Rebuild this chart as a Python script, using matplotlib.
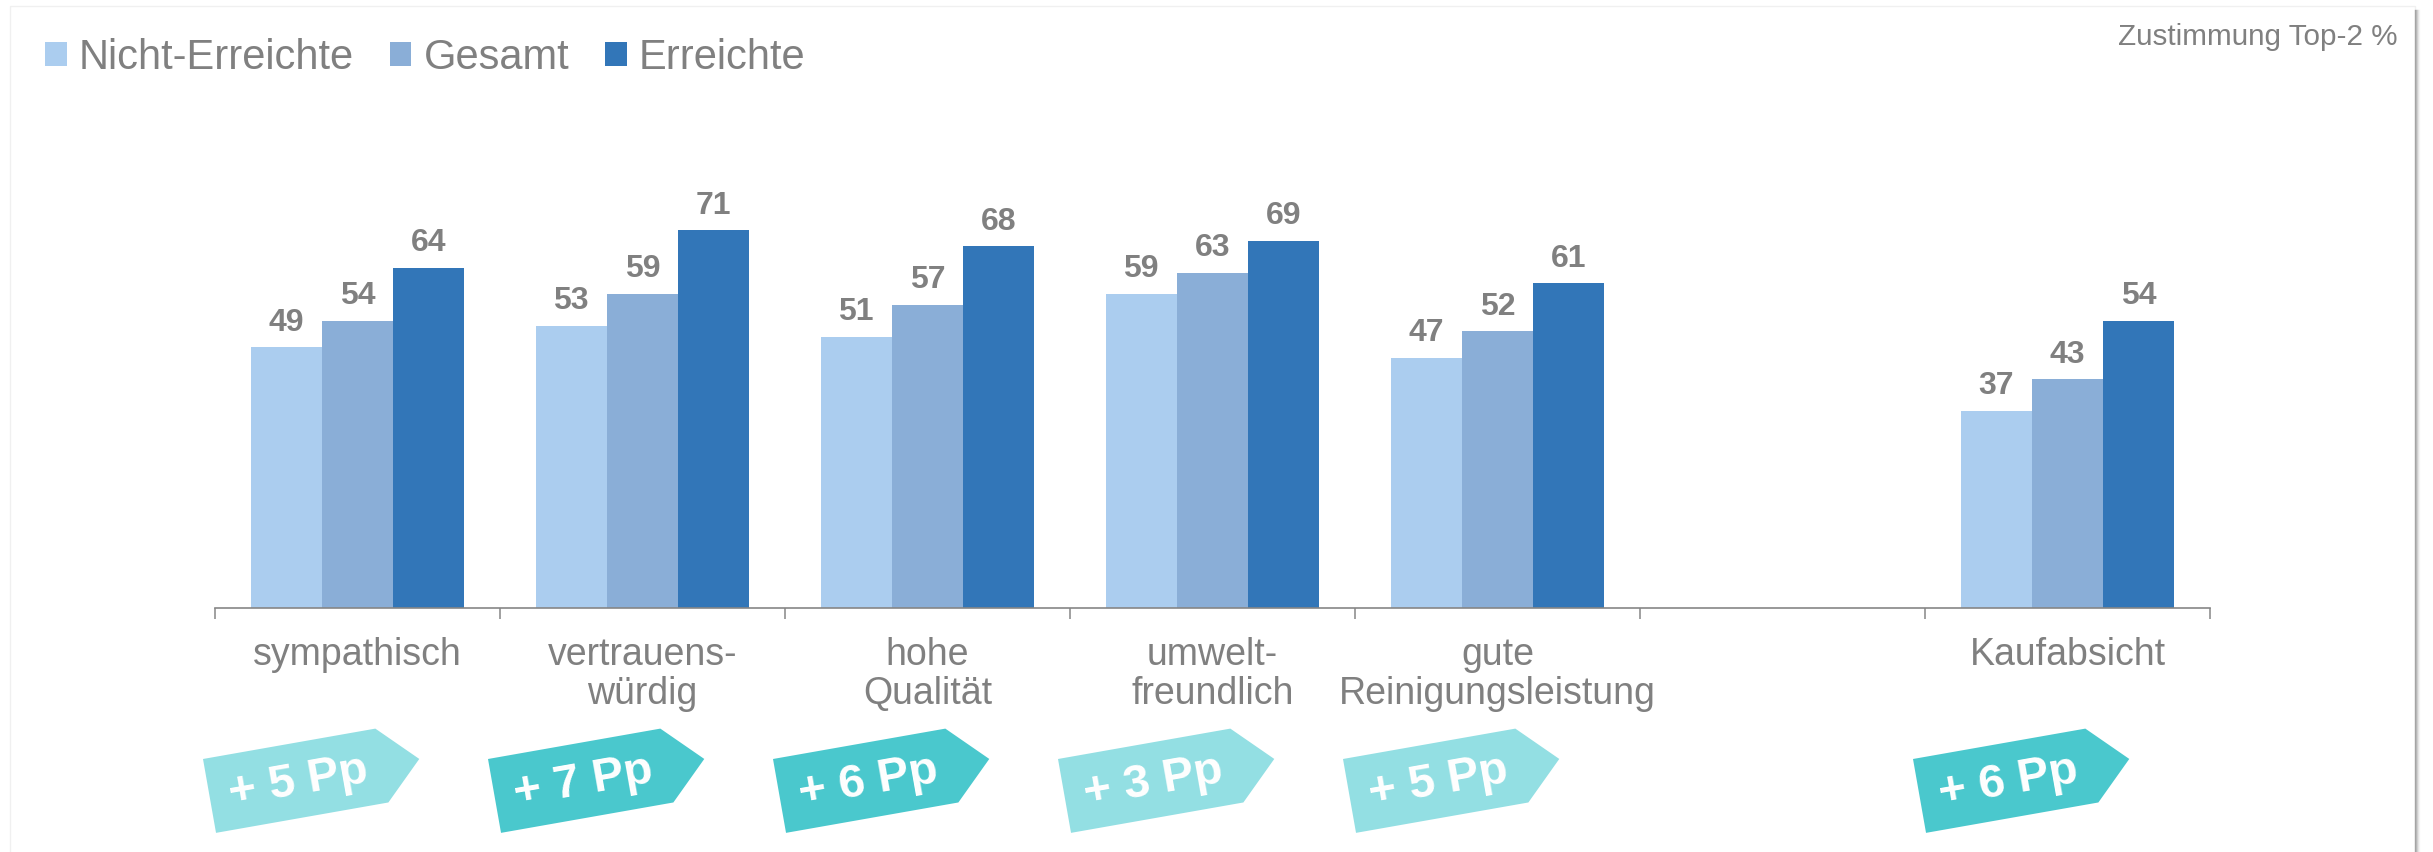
import numpy as np
import matplotlib
matplotlib.use("Agg")
import matplotlib.pyplot as plt
from matplotlib.patches import Polygon, Rectangle
from matplotlib.lines import Line2D
from matplotlib.transforms import Affine2D

# chart data
categories = ["sympathisch", "vertrauens-\nwürdig", "hohe\nQualität", "umwelt-\nfreundlich",
              "gute\nReinigungsleistung", "", "Kaufabsicht"]
series_names = ["Nicht-Erreichte", "Gesamt", "Erreichte"]
nicht_erreichte = [49, 53, 51, 59, 47, np.nan, 37]
gesamt = [54, 59, 57, 63, 52, np.nan, 43]
erreichte = [64, 71, 68, 69, 61, np.nan, 54]
# difference tags below the categories (Prozentpunkte)
tag_values = [5, 7, 6, 3, 5, None, 6]

colors = ["#abcdef", "#8aaed7", "#3276b8"]
tag_light = "#93dfe3"
tag_dark = "#4ac8cd"
gray = "#808080"

W, H = 2433, 852


def main():
    plt.rcParams['font.family'] = ['Liberation Sans', 'DejaVu Sans']
    fig = plt.figure(figsize=(W / 100, H / 100), dpi=100)
    fig.patch.set_facecolor("white")

    # pixel coordinates with origin top-left
    px = Affine2D().scale(1 / W, -1 / H).translate(0, 1) + fig.transFigure

    ax = fig.add_axes([215 / W, (H - 608) / H, 1995 / W, 532 / H])
    x = np.arange(len(categories))
    width = 0.25
    series = [nicht_erreichte, gesamt, erreichte]
    bars = []
    for k, vals in enumerate(series):
        b = ax.bar(x + (k - 1) * width, vals, width, color=colors[k], label=series_names[k])
        labels = ["" if np.isnan(v) else "%d" % v for v in vals]
        ax.bar_label(b, labels=labels, padding=7, fontsize=23, fontweight="bold", color=gray)
        bars.append(b)

    ax.set_xlim(-0.5, len(categories) - 0.5)
    ax.set_ylim(0, 100)
    ax.set_yticks([])
    for s in ["left", "right", "top"]:
        ax.spines[s].set_visible(False)
    ax.spines["bottom"].set_color("#868686")
    ax.spines["bottom"].set_linewidth(1.2)

    ax.set_xticks(x)
    ax.set_xticklabels(categories, fontsize=27, color=gray, linespacing=1.1)
    ax.tick_params(axis="x", which="major", length=0, pad=21)
    ax.set_xticks(np.arange(len(categories) + 1) - 0.5, minor=True)
    ax.tick_params(axis="x", which="minor", length=8, width=1.1, color="#868686")

    ax.legend(handles=bars, loc="center left", bbox_to_anchor=(45 / W, 1 - 58 / H),
              bbox_transform=fig.transFigure, ncol=3, frameon=False, fontsize=30,
              labelcolor=gray, borderpad=0, borderaxespad=0, handlelength=0.52,
              handleheight=0.52, handletextpad=0.29, columnspacing=0.86)

    fig.text(2397 / W, 1 - 45 / H, "Zustimmung Top-2 %", ha="right", va="baseline",
             fontsize=21.3, color=gray)

    # arrow tags with the difference in Prozentpunkte
    tag_shape = [(0, 0), (175, 0), (213, 37.5), (175, 75), (0, 75)]
    for i, val in enumerate(tag_values):
        if val is None:
            continue
        left = ax.transData.transform((i - 0.5, 0))[0] - 12
        tr = Affine2D().rotate_deg(-10).translate(left, 759) + px
        col = tag_dark if val >= 6 else tag_light
        fig.add_artist(Polygon(tag_shape, closed=True, facecolor=col, edgecolor="none",
                               transform=tr))
        fig.text(90, 39, "+ %d Pp" % val, transform=tr, rotation=10,
                 rotation_mode="anchor", ha="center", va="center", fontsize=34,
                 fontweight="bold", color="white")

    # slide frame with shadow on the right
    fig.add_artist(Rectangle((10, 6), 2405, 860, transform=px, facecolor="none",
                             edgecolor="#f0f0f0", linewidth=1))
    for j, a in enumerate([0.55, 0.4, 0.25, 0.12, 0.05]):
        fig.add_artist(Line2D([2415 + j, 2415 + j], [10, H], transform=px,
                              color="#707070", alpha=a, linewidth=1))

    fig.savefig("out.png", dpi=100, facecolor="white")


if __name__ == "__main__":
    main()
